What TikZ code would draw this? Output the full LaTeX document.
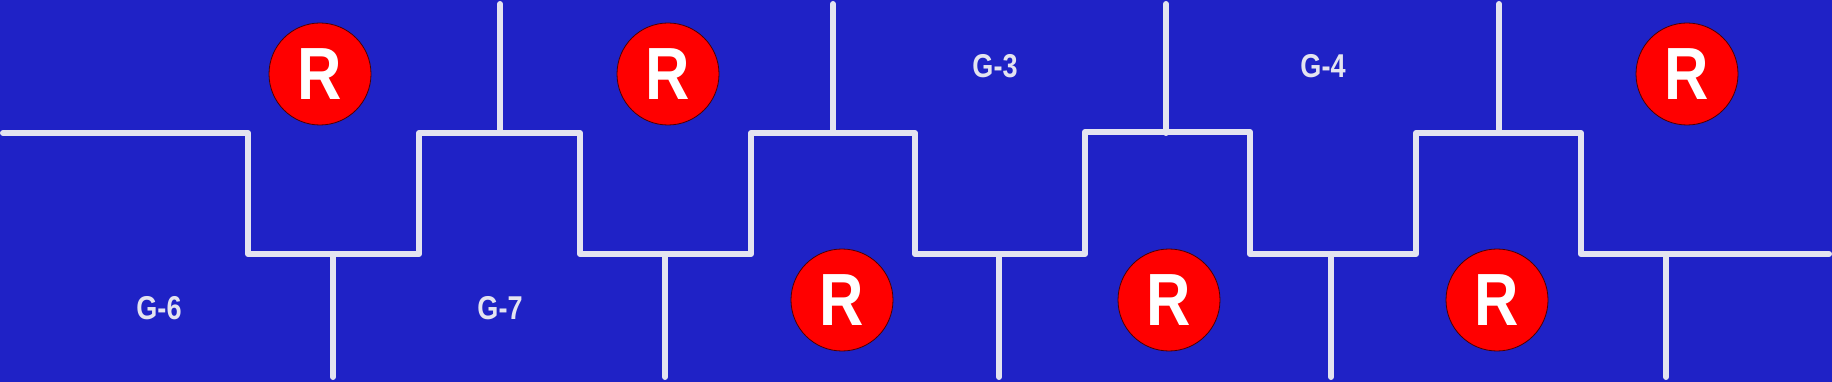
\documentclass[tikz,border=0pt]{standalone}
\usepackage{fontspec}
\setmainfont{Liberation Sans}
\definecolor{bgblue}{HTML}{1F22C6}
\definecolor{wire}{HTML}{E4E4F0}
\definecolor{rred}{HTML}{FF0000}
\newcommand{\ballR}{\scalebox{0.83}[1]{R}}
\newcommand{\narrowtxt}[1]{\scalebox{0.82}[1]{#1}}
\begin{document}
\begin{tikzpicture}[x=1pt,y=-1pt,
  wireline/.style={draw=wire,line width=6pt,line cap=round,line join=round},
  rball/.style={circle,fill=rred,draw=black!70!red,line width=0.8pt,minimum size=102pt,inner sep=0pt,
    text=white,font=\fontsize{74}{74}\selectfont\bfseries},
  glabel/.style={text=wire,font=\fontsize{33}{33}\selectfont\bfseries,inner sep=0pt}]
\fill[bgblue] (0,0) rectangle (1832,382);
\useasboundingbox (0,0) rectangle (1832,382);
% main stepped line
\draw[wireline] (3,133) -- (248,133) -- (248,254) -- (419,254) -- (419,133) -- (580,133)
  -- (580,254) -- (751,254) -- (751,133) -- (915,133) -- (915,254) -- (1085,254)
  -- (1085,132) -- (1250,132) -- (1250,254) -- (1416,254) -- (1416,133) -- (1581,133)
  -- (1581,254) -- (1829,254);
% upward stems
\foreach \x in {500,833,1166,1499} {\draw[wireline] (\x,4) -- (\x,133);}
% downward stems
\foreach \x in {333,665,999,1331,1666} {\draw[wireline] (\x,254) -- (\x,377);}
% R balls
\node[rball] (r1) at (320,74) {\ballR};
\node[rball] (r2) at (668,74) {\ballR};
\node[rball] (r3) at (1687,74) {\ballR};
\node[rball] (r4) at (842,300) {\ballR};
\node[rball] (r5) at (1169,300) {\ballR};
\node[rball] (r6) at (1497,300) {\ballR};
% labels
\node[glabel] (g6) at (159,308) {\narrowtxt{G-6}};
\node[glabel] (g7) at (500,308) {\narrowtxt{G-7}};
\node[glabel] (g3) at (995,66) {\narrowtxt{G-3}};
\node[glabel] (g4) at (1323,66) {\narrowtxt{G-4}};
\end{tikzpicture}
\end{document}
